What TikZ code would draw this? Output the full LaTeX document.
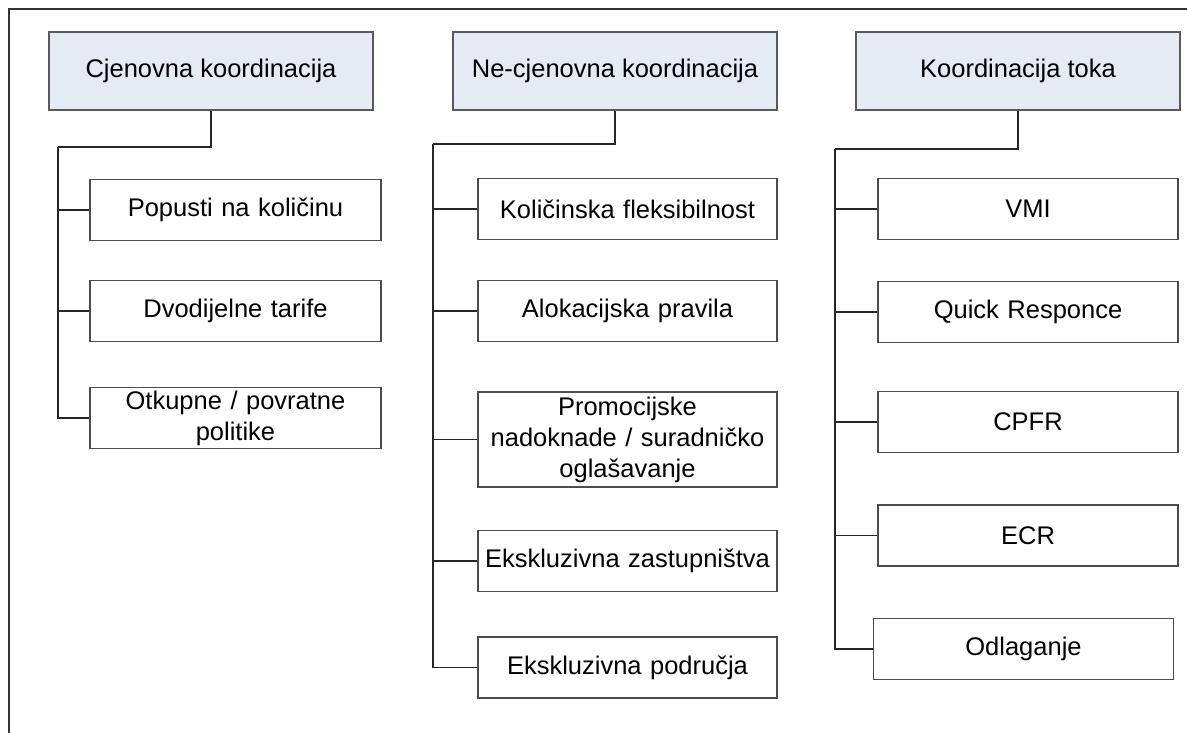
\documentclass[tikz,border=0pt]{standalone}
\usepackage{fontspec}
\setmainfont{Liberation Sans}
\begin{document}
\begin{tikzpicture}[x=1pt,y=-1pt,
  every node/.style={font=\fontsize{25.5}{31}\selectfont, inner sep=0pt, align=center},
  head/.style={draw=black!65, line width=1.4pt, fill=headfill, minimum width=324pt, minimum height=78pt},
  item/.style={draw=black!70, line width=1.2pt, fill=white, minimum width=300pt, minimum height=61pt, text width=290pt},
  conn/.style={draw=black!85, line width=1.2pt},
  frame/.style={draw=black!80, line width=1.4pt}]
\definecolor{headfill}{HTML}{E4EBF5}
\useasboundingbox (0,0) rectangle (1187,733);
\coordinate (ftl) at (9,9);
\coordinate (ftr) at (1187,9);
\coordinate (fbl) at (9,733);
\draw[frame] (fbl) -- (ftl) -- (ftr);

% headers
\node[head] (h1) at (211,71) {Cjenovna koordinacija};
\node[head] (h2) at (615,71) {Ne-cjenovna koordinacija};
\node[head] (h3) at (1018,71) {Koordinacija toka};

% column 1
\node[item, minimum width=291pt] (a1) at (235.5,210) {Popusti na količinu};
\node[item, minimum width=291pt] (a2) at (235.5,311) {Dvodijelne tarife};
\node[item, minimum width=291pt] (a3) at (235.5,418) {Otkupne / povratne\\politike};

% column 2
\node[item, minimum width=299pt] (b1) at (627.5,209) {Količinska fleksibilnost};
\node[item, minimum width=299pt] (b2) at (627.5,311) {Alokacijska pravila};
\node[item, minimum width=299pt, minimum height=95pt] (b3) at (627.5,439.5) {Promocijske\\nadoknade / suradničko\\oglašavanje};
\node[item, minimum width=299pt] (b4) at (627.5,561) {Ekskluzivna zastupništva};
\node[item, minimum width=299pt] (b5) at (627.5,667.5) {Ekskluzivna područja};

% column 3
\node[item] (c1) at (1028,209) {VMI};
\node[item] (c2) at (1028,312) {Quick Responce};
\node[item] (c3) at (1028,422) {CPFR};
\node[item] (c4) at (1028,535.5) {ECR};
\node[item] (c5) at (1023.5,649) {Odlaganje};

% junctions
\coordinate (ja) at (58,147);
\coordinate (jb) at (433,144);
\coordinate (jc) at (835,149);

% connectors column 1
\draw[conn] (h1.south) |- (ja);
\draw[conn] (ja) |- (a3.west);
\draw[conn] (a1.west -| ja) -- (a1.west);
\draw[conn] (a2.west -| ja) -- (a2.west);

% connectors column 2
\draw[conn] (h2.south) |- (jb);
\draw[conn] (jb) |- (b5.west);
\draw[conn] (b1.west -| jb) -- (b1.west);
\draw[conn] (b2.west -| jb) -- (b2.west);
\draw[conn] (b3.west -| jb) -- (b3.west);
\draw[conn] (b4.west -| jb) -- (b4.west);

% connectors column 3
\draw[conn] (h3.south) |- (jc);
\draw[conn] (jc) |- (c5.west);
\draw[conn] (c1.west -| jc) -- (c1.west);
\draw[conn] (c2.west -| jc) -- (c2.west);
\draw[conn] (c3.west -| jc) -- (c3.west);
\draw[conn] (c4.west -| jc) -- (c4.west);
\end{tikzpicture}
\end{document}
